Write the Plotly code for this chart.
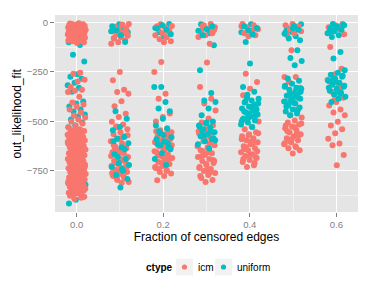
import plotly.graph_objects as go

fractions = [0.0, 0.1, 0.2, 0.3, 0.4, 0.5, 0.6]

icm_values = [
    # 0.0
    [-5, -8, -10, -12, -14, -15, -17, -18, -20, -22, -23, -25, -26, -28, -30, -31, -33, -35, -36, -38,
     -40, -41, -43, -45, -47, -48, -50, -52, -54, -55, -57, -59, -60, -62, -64, -66, -68, -70, -72, -74,
     -76, -78, -80, -82, -85, -88, -90, -93, -96, -100, -104, -6, -16, -27, -37, -46, -58, -67, -79, -92,
     -255, -259, -290, -298, -326, -340, -345, -352, -375, -405, -415, -425, -440, -455, -470, -480, -490,
     -500, -510, -520, -530,
     -540, -545, -548, -552, -556, -560, -563, -567, -570, -574, -578, -581, -585, -588, -592, -596, -599,
     -603, -606, -610, -614, -617, -621, -624, -628, -632, -635, -639, -642, -646, -650, -653, -657, -660,
     -664, -668, -671, -675, -678, -682, -686, -689, -693, -696, -700, -704, -707, -711, -714, -718, -722,
     -725, -729, -732, -736, -740, -743, -747, -750, -754, -758, -761, -765, -768, -772, -776, -779, -783,
     -786, -790, -794, -797, -801, -804, -808, -812, -815, -819, -822, -826, -830, -833, -837, -840, -844,
     -848, -851, -855, -860, -866, -872, -880,
     -543, -558, -572, -590, -604, -619, -637, -651, -666, -684, -698, -713, -727, -745, -760, -774, -788,
     -803, -817, -835, -849, -862, -875, -885, -890],
    # 0.1
    [-8, -15, -22, -30, -38, -45, -52, -60, -68, -75, -82, -90, -100, -108, -12, -35, -55,
     -250, -292, -340, -351, -360, -398, -423, -461, -478, -502, -515, -525, -540, -555, -565, -575, -590,
     -600, -612, -625, -635, -645, -655, -660, -670, -680, -690, -700, -705, -715, -725, -735, -745, -755,
     -765, -775, -785, -795, -805, -810, -640, -690, -720, -760, -650,
     -530, -570, -585, -620, -630, -665, -675, -695, -710, -730, -750, -770, -780, -790],
    # 0.2
    [-10, -18, -25, -35, -45, -55, -65, -75, -85, -95, -100, -20, -40,
     -200, -250, -360, -385, -460, -478, -500, -536, -545, -555, -565, -575, -585, -595, -605, -615, -625,
     -635, -645, -655, -665, -675, -685, -695, -705, -715, -725, -735, -745, -755, -763, -775, -797, -560,
     -600, -650, -700, -740, -590, -680,
     -550, -570, -610, -620, -640, -670, -690, -710, -730, -750],
    # 0.3
    [-8, -15, -25, -35, -45, -55, -65, -74, -108, -20, -40,
     -203, -326, -385, -410, -445, -485, -505, -520, -540, -560, -580, -600, -620, -630, -645, -660, -670,
     -680, -690, -700, -710, -720, -730, -740, -750, -760, -770, -785, -795, -805, -550, -610, -650, -700,
     -745, -775,
     -555, -590, -625, -655, -675, -695, -715, -735, -755],
    # 0.4
    [-8, -15, -25, -35, -45, -55, -65, -70, -20, -40,
     -259, -301, -335, -368, -420, -460, -500, -528, -540, -555, -565, -575, -585, -595, -605, -615, -625,
     -635, -645, -655, -665, -675, -685, -695, -705, -721, -730, -560, -600, -640, -680,
     -570, -590, -610, -630, -650, -670, -690, -710],
    # 0.5
    [-8, -15, -25, -35, -45, -55, -65, -20,
     -141, -276, -276, -300, -330, -360, -400, -440, -469, -480, -495, -505, -515, -525, -535, -545, -555,
     -565, -575, -585, -595, -605, -615, -625, -635, -645, -662, -520, -560, -600,
     -510, -530, -550, -570, -590, -610, -630],
    # 0.6
    [-8, -15, -25, -35, -45, -60, -20,
     -124, -234, -262, -290, -320, -350, -380, -402, -420, -440, -455, -469, -502, -520, -540, -560, -587,
     -612, -620, -670, -721,
     -300, -330, -395],
]

uniform_values = [
    # 0.0
    [-60, -85, -100, -115,
     -163, -197, -262, -275, -285, -305, -318, -330, -350, -400, -410, -425, -440, -450, -465, -475, -490,
     -505, -520, -530, -545, -580, -595, -600, -610, -700, -760, -820, -835, -850, -880, -895, -914],
    # 0.1
    [-10, -20, -28, -40, -50, -65, -80, -99, -25, -45, -58,
     -449, -486, -528, -545, -578, -586, -610, -630, -665, -690, -710, -730, -750, -770, -790, -834,
     -600, -640, -680, -720, -740],
    # 0.2
    [-8, -15, -28, -38, -50, -60, -72, -30, -45,
     -326, -326, -402, -435, -449, -486, -520, -536, -560, -580, -600, -615, -630, -660, -690, -720, -550,
     -640, -570, -590, -610, -620],
    # 0.3
    [-10, -20, -30, -42, -55, -65, -116, -35,
     -242, -356, -395, -402, -435, -469, -500, -510, -520, -530, -540, -555, -565, -575, -590, -600, -615,
     -637, -545, -585, -505, -525, -550, -570, -595],
    # 0.4
    [-10, -20, -30, -40, -50, -62, -99, -28,
     -208, -326, -350, -365, -385, -395, -405, -415, -425, -435, -445, -455, -465, -475, -485, -495, -505,
     -515, -528, -400, -440, -460, -490, -420, -380, -410, -430, -450, -470, -480, -500],
    # 0.5
    [-10, -18, -28, -38, -48, -58, -70, -82, -91, -30, -45,
     -141, -180, -195, -217, -284, -295, -310, -320, -330, -340, -350, -360, -370, -380, -390, -400, -410,
     -420, -430, -440, -450, -460, -469, -335, -375, -415, -355, -395,
     -325, -345, -365, -385, -405, -425, -445],
    # 0.6
    [-8, -15, -22, -30, -38, -45, -55, -65, -74, -12, -28, -50,
     -150, -183, -242, -255, -265, -275, -285, -295, -305, -315, -325, -335, -345, -355, -365, -375, -385,
     -402, -270, -300, -330, -360, -290, -320, -345],
]

ctypes = ["icm", "uniform"]
x_ticks = [0.0, 0.2, 0.4, 0.6]
y_ticks = [0, -250, -500, -750]

ICM = "#F8766D"
UNI = "#00BFC4"
JIT = 0.021
MS = 6

# panel in pixels
PL, PR, PT, PB = 55, 358, 15, 212


def px_x(p):
    return (p - PL) / (PR - PL)


def px_y(p):
    return (PB - p) / (PB - PT)


def jitter_offset(i, seed, g):
    f = ((i + 1) * 0.6180339887 + seed + g * 3.7) % 1.0
    return (f - 0.5) * 2 * JIT


# icm points
ix, iy = [], []
for g, vals in zip(fractions, icm_values):
    for i, v in enumerate(vals):
        ix.append(g + jitter_offset(i, 0.0, g))
        iy.append(v)

# uniform points: split into a layer drawn beneath icm and one above, to mimic
# ggplot's interleaved drawing order
u_under_x, u_under_y, u_over_x, u_over_y = [], [], [], []
for gi, (g, vals) in enumerate(zip(fractions, uniform_values)):
    for i, v in enumerate(vals):
        x = g + jitter_offset(i, 0.21 + 0.26 * (gi > 0), g)
        under = gi == 0 or (gi <= 5 and v > -130 and i % 2 == 0)
        if under:
            u_under_x.append(x)
            u_under_y.append(v)
        else:
            u_over_x.append(x)
            u_over_y.append(v)

fig = go.Figure()
mk = lambda c: dict(color=c, size=MS, line=dict(width=0))
fig.add_trace(go.Scatter(x=u_under_x, y=u_under_y, mode="markers", name="uniform", marker=mk(UNI)))
fig.add_trace(go.Scatter(x=ix, y=iy, mode="markers", name="icm", marker=mk(ICM)))
fig.add_trace(go.Scatter(x=u_over_x, y=u_over_y, mode="markers", name="uniform", marker=mk(UNI)))

axis_common = dict(
    showline=False, zeroline=False, gridcolor="white", gridwidth=1.1, automargin=False,
    ticks="outside", ticklen=4, tickcolor="#7F7F7F", tickwidth=1,
    tickfont=dict(family="Liberation Sans", size=9.5, color="#7F7F7F"),
    title_font=dict(family="Liberation Sans", size=12, color="black"),
)

fig.update_xaxes(
    range=[-0.05, 0.65], tickvals=x_ticks, ticktext=[f"{t:.1f}" for t in x_ticks],
    minor=dict(tickvals=[0.1, 0.3, 0.5], showgrid=True, gridcolor="#F2F2F2", gridwidth=0.6, ticks=""),
    title_text="Fraction of censored edges", title_standoff=3, **axis_common)
fig.update_yaxes(
    range=[-957, 37], tickvals=y_ticks,
    minor=dict(tickvals=[-125, -375, -625, -875], showgrid=True, gridcolor="#F2F2F2", gridwidth=0.6, ticks=""),
    **axis_common)

shapes = []
annotations = [
    dict(text="out_likelihood_fit", textangle=-90, x=px_x(16), y=px_y(113.5), xref="paper", yref="paper",
         xanchor="center", yanchor="middle", showarrow=False,
         font=dict(family="Liberation Sans", size=12, color="black")),
    dict(text="<b>ctype</b>", x=px_x(144), y=px_y(267), xref="paper", yref="paper",
         xanchor="left", yanchor="middle", showarrow=False,
         font=dict(family="Liberation Sans", size=10, color="black")),
]
key_left = [176, 215]
for lab, col, kl in zip(ctypes, [ICM, UNI], key_left):
    shapes.append(dict(type="rect", xref="paper", yref="paper", x0=px_x(kl), x1=px_x(kl + 17),
                       y0=px_y(275.5), y1=px_y(258.5), fillcolor="#F2F2F2", line=dict(width=0)))
    cx = kl + 8.5
    shapes.append(dict(type="circle", xref="paper", yref="paper", x0=px_x(cx - 2.6), x1=px_x(cx + 2.6),
                       y0=px_y(267 + 2.6), y1=px_y(267 - 2.6), fillcolor=col, line=dict(width=0)))
    annotations.append(dict(text=lab, x=px_x(kl + 20), y=px_y(267), xref="paper", yref="paper",
                            xanchor="left", yanchor="middle", showarrow=False,
                            font=dict(family="Liberation Sans", size=10, color="black")))

fig.update_layout(
    width=374, height=299,
    margin=dict(l=PL, r=374 - PR, t=PT, b=299 - PB),
    plot_bgcolor="#E5E5E5", paper_bgcolor="white",
    font=dict(family="Liberation Sans", size=10, color="black"),
    showlegend=False, shapes=shapes, annotations=annotations,
)

fig.write_html("out.html", config={"displayModeBar": False},
               post_script="document.body.style.margin='0';")
